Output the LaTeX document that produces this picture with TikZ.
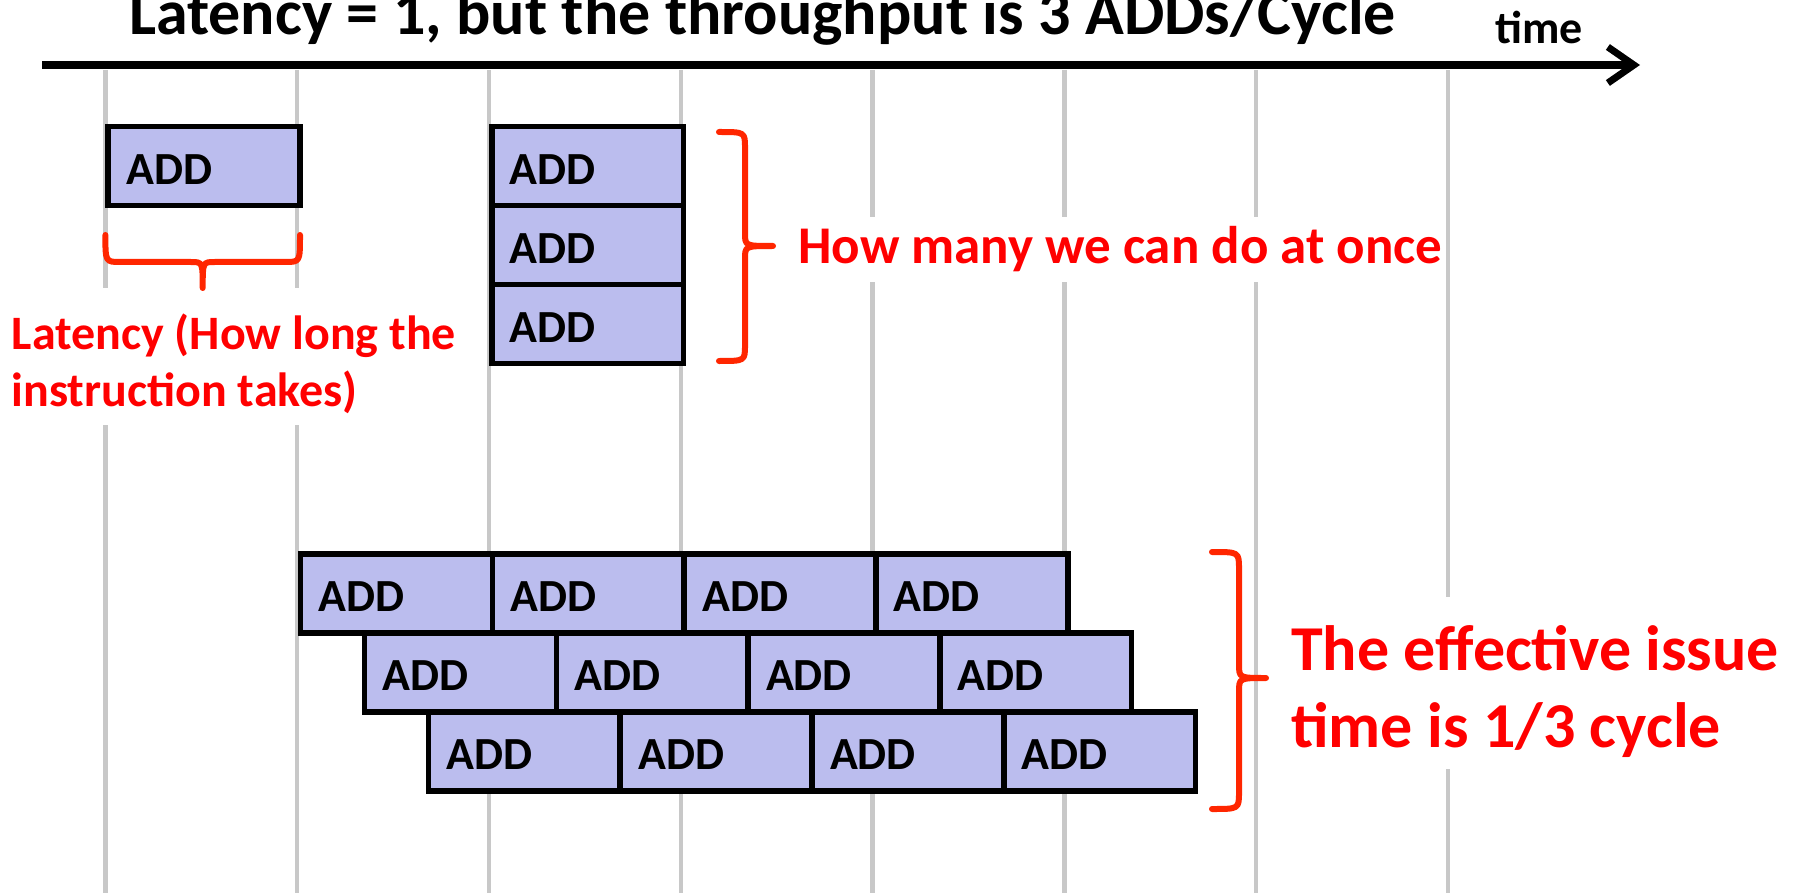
\documentclass[tikz,border=0pt]{standalone}
\usepackage{fontspec}
\setmainfont{Carlito}
\usetikzlibrary{arrows.meta}
\definecolor{addfill}{RGB}{187,189,238}
\definecolor{bracered}{RGB}{255,38,0}
\definecolor{gridgray}{RGB}{200,200,200}
\definecolor{notered}{RGB}{255,0,0}

\begin{document}
\begin{tikzpicture}[x=1pt,y=-1pt,
  gridline/.style={draw=gridgray, line width=4.5pt},
  addbox/.style={draw=black, line width=5.5pt, fill=addfill, anchor=north west,
    minimum height=79pt, text width=155.8pt, inner xsep=18pt, inner ysep=0pt,
    text height=37pt, text depth=0pt,
    align=left, font=\fontsize{46}{50}\selectfont\bfseries},
  bracepath/.style={draw=bracered, line width=6pt, line cap=round, line join=round},
  note/.style={text=notered, fill=white, inner xsep=0pt, anchor=base west},
  timeaxis/.style={draw=black, line width=8pt,
    -{Straight Barb[length=26pt,width=36pt,line width=7pt]}}
]
\useasboundingbox (0,0) rectangle (1796,893);

% cycle boundaries
\foreach \i in {0,...,7}
  \draw[gridline] ({105.4+\i*191.8},70) -- ({105.4+\i*191.8},893);

% labels with a white ground that interrupts the grid
\node[note, font=\fontsize{53}{57}\selectfont\bfseries, inner ysep=10pt] (howmany) at (798,264) {How many we can do at once};
\node[note, font=\fontsize{48}{52}\selectfont\bfseries, inner ysep=25pt] (lat1) at (11.5,349) {Latency (How long the};
\node[note, font=\fontsize{48}{52}\selectfont\bfseries, inner ysep=11pt] (lat2) at (11.5,406.6) {instruction takes)};
\node[note, font=\fontsize{64}{68}\selectfont\bfseries, inner ysep=28pt] (eff1) at (1291,670) {The effective issue};
\node[note, font=\fontsize{64}{68}\selectfont\bfseries, inner ysep=12pt] (eff2) at (1291,747) {time is 1/3 cycle};

% title and time axis
\node[anchor=base west, inner sep=0pt, font=\fontsize{64}{68}\selectfont\bfseries] (title) at (129,35) {Latency = 1, but the throughput is 3 ADDs/Cycle};
\node[anchor=base west, inner sep=0pt, font=\fontsize{46}{50}\selectfont\bfseries] (timelbl) at (1495,43.5) {time};
\coordinate (axstart) at (42,65);
\coordinate (axend) at (1640,65);
\draw[timeaxis] (axstart) -- (axend);

% one instruction
\node[addbox] (single) at (105.4,123.7) {ADD};

% three instructions in parallel
\foreach \r in {0,1,2}
  \node[addbox] (par\r) at (489.0,{123.7+\r*79}) {ADD};

% pipelined stream, each row shifted by a third of a cycle
\foreach \r in {0,1,2}
  \foreach \k in {0,...,3}
    \node[addbox] (pipe\r\k) at ({297.8+\r*63.93+\k*191.8},{551+\r*79}) {ADD};

% brace: parallel width
\draw[bracepath] (719,132) .. controls (745,132) .. (745,148) -- (745,233)
  .. controls (745,246) .. (773,246) .. controls (745,246) .. (745,259)
  -- (745,345) .. controls (745,361) .. (719,361);

% brace: latency of one instruction
\draw[bracepath] (105.4,235) .. controls (105.4,262) .. (120.4,262) -- (190.7,262)
  .. controls (202.7,262) .. (202.7,288) .. controls (202.7,262) .. (214.7,262)
  -- (285,262) .. controls (300,262) .. (300,235);

% brace: pipelined stream
\draw[bracepath] (1212,552) .. controls (1239,552) .. (1239,569) -- (1239,664)
  .. controls (1239,678) .. (1266,678) .. controls (1239,678) .. (1239,692)
  -- (1239,792) .. controls (1239,809) .. (1212,809);
\end{tikzpicture}
\end{document}
